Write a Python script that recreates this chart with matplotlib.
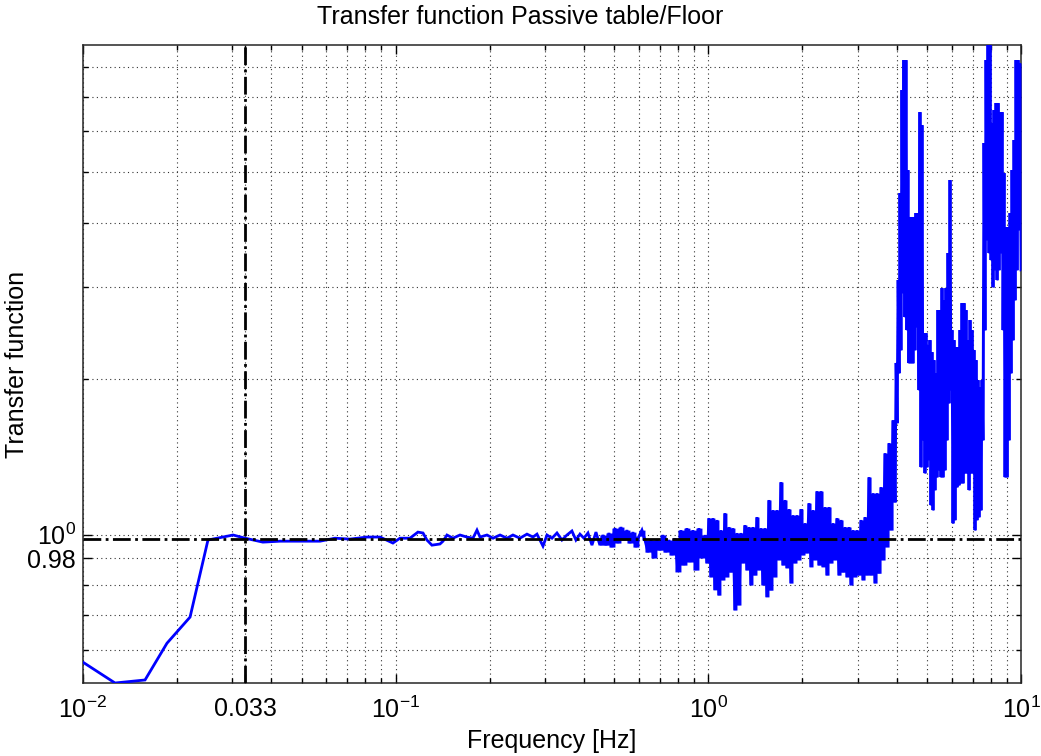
import numpy as np
import matplotlib
matplotlib.use("Agg")
import matplotlib.pyplot as plt
from matplotlib.ticker import FixedLocator, FixedFormatter, LogLocator, NullFormatter

# ---------------- data ----------------
freq_hz = [
    0.0100, 0.01266, 0.01579, 0.01856, 0.0220, 0.0251, 0.0302, 0.0330, 0.0376, 0.0427,
    0.0494, 0.0573, 0.0640, 0.0714, 0.0810, 0.0891, 0.0980, 0.1032, 0.1111, 0.1178,
    0.1223, 0.1259, 0.1306, 0.1386, 0.1417, 0.1459, 0.1525, 0.1606, 0.1690, 0.1767,
    0.1820, 0.1861, 0.1959, 0.2048, 0.2157, 0.2270, 0.2372, 0.2497, 0.2630, 0.2749,
    0.2831, 0.2959, 0.3048, 0.3162, 0.3280, 0.3402, 0.3530, 0.3662, 0.3772, 0.3885,
    0.4001, 0.4121, 0.4244, 0.4371, 0.4500,
    0.4602, 0.4705, 0.4810, 0.4917, 0.5027, 0.5140, 0.5254, 0.5372, 0.5492, 0.5615,
    0.5740, 0.5868, 0.5999, 0.6133, 0.6270, 0.6410, 0.6553, 0.6699, 0.6849, 0.7002,
    0.7158, 0.7318, 0.7482, 0.7649, 0.7820, 0.7994, 0.8173, 0.8356, 0.8542, 0.8733,
    0.8928, 0.9128, 0.9332, 0.9541, 0.9753,
    0.9897, 1.0044, 1.0193, 1.0344, 1.0498, 1.0654, 1.0812, 1.0972, 1.1135, 1.1301,
    1.1468, 1.1639, 1.1812, 1.1987, 1.2165, 1.2346, 1.2529, 1.2716, 1.2904, 1.3096,
    1.3291, 1.3488, 1.3688, 1.3891, 1.4098, 1.4307, 1.4520, 1.4735, 1.4954, 1.5176,
    1.5401, 1.5630, 1.5862, 1.6098, 1.6337, 1.6580, 1.6826, 1.7076, 1.7330, 1.7587,
    1.7848, 1.8113, 1.8382, 1.8655, 1.8932, 1.9213, 1.9498, 1.9788, 2.0082, 2.0380,
    2.0683, 2.0990, 2.1302, 2.1618, 2.1939, 2.2265, 2.2595, 2.2931, 2.3271, 2.3617,
    2.3968, 2.4324, 2.4685, 2.5051, 2.5423, 2.5801, 2.6184, 2.6573, 2.6967, 2.7368,
    2.7774, 2.8186, 2.8605, 2.9030, 2.9461, 2.9898, 3.0342, 3.0793, 3.1250, 3.1714,
    3.2185, 3.2663, 3.3148, 3.3640, 3.4140, 3.4647, 3.5161, 3.5683, 3.6213, 3.6751,
    3.7297, 3.7850, 3.8412, 3.8983, 3.9562,
    3.9854, 4.0149, 4.0446, 4.0745, 4.1006, 4.130, 4.161, 4.191, 4.222, 4.253,
    4.285, 4.316, 4.348, 4.380, 4.412, 4.446, 4.479, 4.512, 4.545, 4.579,
    4.613, 4.647, 4.681, 4.716, 4.751, 4.786, 4.822, 4.857, 4.893, 4.929,
    4.966, 5.003, 5.040, 5.077, 5.114, 5.152, 5.190, 5.229, 5.267, 5.306,
    5.346, 5.385, 5.425, 5.465, 5.506, 5.546, 5.588, 5.629, 5.671, 5.713,
    5.754, 5.797, 5.840, 5.884, 5.927, 5.970, 6.015, 6.059, 6.104, 6.150,
    6.194, 6.241, 6.287, 6.334, 6.380, 6.427, 6.475, 6.523, 6.571, 6.620,
    6.668, 6.718, 6.767, 6.818, 6.868, 6.918, 6.970, 7.021, 7.073, 7.125,
    7.178, 7.231, 7.284, 7.338, 7.393, 7.447, 7.502, 7.558, 7.613, 7.670,
    7.727, 7.783, 7.841, 7.899, 7.957, 8.017, 8.075, 8.135, 8.195, 8.256,
    8.318, 8.379, 8.442, 8.504, 8.567, 8.630, 8.694, 8.758, 8.823, 8.888,
    8.954, 9.020, 9.087, 9.154, 9.222, 9.290, 9.358, 9.428, 9.497, 9.568,
    9.638, 9.710, 9.781, 9.854, 9.927, 10.0,
]

tf_mag = [
    0.567, 0.517, 0.524, 0.617, 0.693, 0.976, 0.998, 0.984, 0.967, 0.971,
    0.971, 0.971, 0.984, 0.980, 0.989, 0.989, 0.963, 0.984, 0.984, 1.011,
    1.007, 0.976, 0.954, 0.959, 0.971, 0.998, 0.984, 0.998, 0.989, 0.984,
    1.020, 0.989, 0.998, 0.984, 0.998, 0.984, 0.998, 0.984, 1.002, 0.989,
    1.002, 0.950, 0.998, 0.984, 1.007, 0.976, 0.998, 1.016, 0.976, 1.002,
    0.984, 1.007, 0.954, 1.011, 0.954,
    0.998, 0.954, 1.007, 0.946, 1.029, 0.963, 1.034, 0.976, 1.020, 0.963,
    1.011, 0.946, 0.993, 1.020, 0.976, 0.925, 0.976, 0.901, 0.976, 0.933,
    0.998, 0.925, 0.976, 0.913, 0.984, 0.847, 1.020, 0.873, 1.029, 0.885,
    1.020, 0.854, 1.029, 0.901, 0.998,
    0.881, 1.076, 0.828, 1.076, 0.782, 1.067, 0.764, 1.020, 0.817, 1.100,
    0.828, 1.034, 0.846, 1.029, 0.715, 1.007, 0.731, 1.007, 0.881, 1.043,
    0.854, 1.034, 0.799, 1.034, 0.835, 1.081, 0.854, 1.029, 0.799, 1.029,
    0.758, 1.166, 0.781, 1.115, 0.828, 1.115, 0.893, 1.263, 0.873, 1.166,
    0.862, 1.120, 0.806, 1.090, 0.881, 1.090, 0.893, 1.120, 0.913, 1.052,
    0.921, 1.150, 0.866, 1.115, 0.893, 1.213, 0.873, 1.213, 0.866, 1.130,
    0.835, 1.130, 0.881, 1.052, 0.893, 1.076, 0.835, 1.067, 0.846, 1.034,
    0.828, 1.034, 0.799, 1.020, 0.828, 1.020, 0.835, 1.067, 0.817, 1.081,
    0.835, 1.291, 0.835, 1.202, 0.806, 1.202, 0.842, 1.235, 0.893, 1.436,
    0.946, 1.502, 1.020, 1.663, 1.155,
    2.144, 1.642, 3.100, 2.050, 4.563, 2.271, 7.212, 2.926, 8.241, 2.630,
    8.241, 2.482, 5.054, 2.143, 4.102, 2.143, 4.102, 2.143, 4.102, 2.271,
    4.175, 2.515, 4.175, 1.901, 6.540, 1.350, 6.172, 1.522, 2.449, 1.314,
    2.449, 1.350, 2.322, 1.393, 2.374, 1.140, 2.251, 1.115, 2.172, 1.219,
    2.050, 1.291, 2.713, 1.332, 2.713, 1.291, 2.991, 1.291, 2.836, 1.332,
    2.991, 1.522, 3.495, 1.794, 4.835, 1.901, 2.482, 1.052, 2.374, 1.067,
    2.301, 1.235, 2.301, 1.246, 2.482, 1.257, 2.798, 1.257, 2.798, 1.314,
    2.713, 1.314, 2.374, 1.219, 2.595, 1.314, 2.482, 1.314, 2.271, 1.020,
    2.172, 1.067, 1.987, 1.081, 1.926, 1.115, 1.987, 1.522, 5.699, 2.482,
    8.241, 3.703, 9.000, 3.495, 9.000, 3.388, 6.228, 3.004, 6.598, 3.241,
    6.808, 3.100, 6.808, 3.241, 6.540, 3.495, 6.540, 2.482, 4.988, 1.291,
    3.923, 1.291, 3.923, 1.522, 4.175, 2.050, 5.054, 2.374, 5.775, 2.836,
    8.241, 3.241, 8.241, 3.871, 8.130, 3.241,
]

dense_from_hz = 0.45         # above this the trace is so dense it renders as a solid band
cutoff_freq = 0.033          # vertical dash-dot marker
reference_level = 0.98       # horizontal dash-dot marker

x_tick_values = [0.01, 0.033, 0.1, 1.0, 10.0]
x_tick_labels = [r"$10^{-2}$", "0.033", r"$10^{-1}$", r"$10^{0}$", r"$10^{1}$"]
y_tick_values = [0.9, 1.0]
y_tick_labels = ["0.98", r"$10^{0}$"]

title_text = "Transfer function Passive table/Floor"
x_label_text = "Frequency [Hz]"
y_label_text = "Transfer function"

# ---------------- styling ----------------
plt.rcParams["font.family"] = ["Liberation Sans", "DejaVu Sans"]
plt.rcParams["mathtext.fontset"] = "custom"
plt.rcParams["mathtext.rm"] = "Liberation Sans"
plt.rcParams["mathtext.it"] = "Liberation Sans:italic"
plt.rcParams["mathtext.bf"] = "Liberation Sans:bold"

W, H = 1041, 756
fig = plt.figure(figsize=(W / 100, H / 100), dpi=100)
ax = fig.add_axes([83 / W, 1 - 683 / H, (1021 - 83) / W, (683 - 45) / H])

blue = (0, 0, 1)
f = np.asarray(freq_hz)
v = np.asarray(tf_mag)
ax.plot(f, v, color=blue, lw=2.0, zorder=3, solid_joinstyle="miter")

# dense part: many samples per pixel -> fill the span between neighbouring samples
m = f >= dense_from_hz
fd, vd = f[m], v[m]
lo = np.minimum(vd[:-1], vd[1:])
hi = np.maximum(vd[:-1], vd[1:])
ax.fill_between(fd, np.append(lo, lo[-1]), np.append(hi, hi[-1]),
                step="post", color=blue, lw=0, zorder=3)

ax.axvline(cutoff_freq, color="k", ls="-.", lw=2.0, zorder=4)
ax.axhline(reference_level, color="k", ls="-.", lw=2.0, zorder=4)

ax.set_xscale("log")
ax.set_yscale("log")
ax.set_xlim(0.01, 10.0)
ax.set_ylim(0.517, 8.81)

ax.xaxis.set_major_locator(FixedLocator(x_tick_values))
ax.xaxis.set_major_formatter(FixedFormatter(x_tick_labels))
ax.xaxis.set_minor_locator(LogLocator(base=10, subs=range(2, 10), numticks=20))
ax.xaxis.set_minor_formatter(NullFormatter())

ax.yaxis.set_major_locator(FixedLocator(y_tick_values))
ax.yaxis.set_major_formatter(FixedFormatter(y_tick_labels))
ax.yaxis.set_minor_locator(LogLocator(base=10, subs=range(2, 10), numticks=20))
ax.yaxis.set_minor_formatter(NullFormatter())

ax.grid(True, which="both", linestyle=(0, (1, 3)), color="0.2", lw=0.8)
ax.tick_params(which="both", direction="in", top=True, right=True,
               labelsize=18, colors="k", width=1.0)
ax.tick_params(axis="x", which="major", length=6.5, pad=10)
ax.tick_params(axis="y", which="major", length=6.5, pad=5)
ax.tick_params(which="minor", length=3.6)
for s in ax.spines.values():
    s.set_linewidth(1.1)
    s.set_color("0.15")

ax.set_title(title_text, fontsize=18, pad=15, x=0.466)
ax.set_xlabel(x_label_text, fontsize=18, labelpad=4)
ax.set_ylabel(y_label_text, fontsize=18)
ax.yaxis.set_label_coords(-0.058, 0.5)

fig.savefig("out.png", dpi=100)
